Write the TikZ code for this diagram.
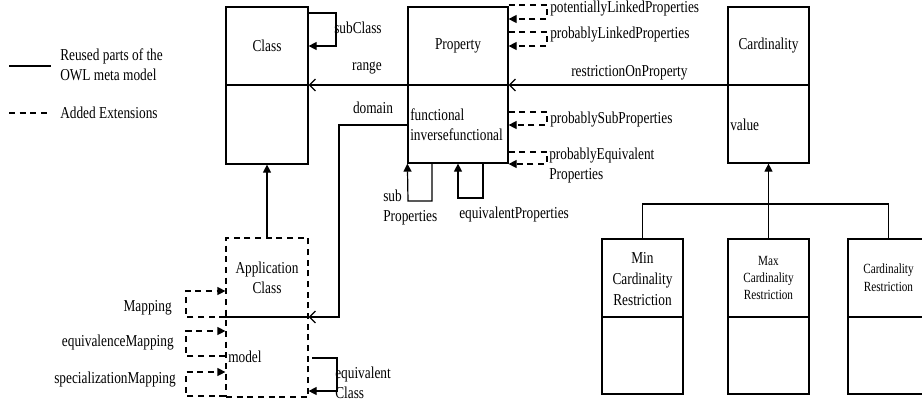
\documentclass[tikz,border=0pt]{standalone}
\usepackage{fontspec}
\setmainfont{Liberation Serif}[FakeStretch=0.8]
\usetikzlibrary{arrows.meta}

\def\u{0.75pt}
\tikzset{
	box/.style={draw, line width=0.9pt, inner sep=0pt},
	dbox/.style={box, dash pattern=on 4.5pt off 3.5pt},
	lab/.style={inner sep=0pt, font=\fontsize{12.5}{15}\selectfont},
	slab/.style={inner sep=0pt, font=\fontsize{10.5}{13}\selectfont},
	solidarr/.style={line width=0.9pt, -{Triangle[length=6pt,width=6pt]}},
	dasharr/.style={solidarr, dash pattern=on 4.5pt off 3.5pt},
	openarr/.style={line width=0.9pt, -{Straight Barb[length=4.5pt,width=9pt]}}
}

\begin{document}
\begin{tikzpicture}[x=0.75pt, y=-0.75pt]
		\useasboundingbox (0,0) rectangle (922,401);
		% boxes
		\node[box, minimum width=82*\u, minimum height=157*\u] (cls) at (267,85.5) {};
		\node[box, minimum width=100*\u, minimum height=156*\u] (prop) at (458,85) {};
		\node[box, minimum width=81*\u, minimum height=156*\u] (card) at (768.5,85) {};
		\node[dbox, minimum width=82*\u, minimum height=159*\u] (app) at (267,317.5) {};
		\node[box, minimum width=81*\u, minimum height=155*\u] (minc) at (642.5,316.5) {};
		\node[box, minimum width=81*\u, minimum height=155*\u] (maxc) at (768.5,316.5) {};
		\node[box, minimum width=81*\u, minimum height=155*\u] (cr) at (888.5,316.5) {};
		% dividers
		\draw[line width=0.9pt] (cls.west |- 0,85) -- (cls.east |- 0,85);
		\draw[line width=0.9pt] (prop.west |- 0,85) -- (prop.east |- 0,85);
		\draw[line width=0.9pt] (card.west |- 0,85) -- (card.east |- 0,85);
		\draw[line width=0.9pt] (app.west |- 0,317) -- (app.east |- 0,317);
		\draw[line width=0.9pt] (minc.west |- 0,317) -- (minc.east |- 0,317);
		\draw[line width=0.9pt] (maxc.west |- 0,317) -- (maxc.east |- 0,317);
		\draw[line width=0.9pt] (cr.west |- 0,317) -- (cr.east |- 0,317);
		% box texts
		\node[lab] (clsname) at (267,46) {Class};
		\node[lab] (propname) at (458,46) {Property};
		\node[lab] (cardname) at (768.5,46) {Cardinality};
		\node[lab, anchor=west] (cardval) at (730,125) {value};
		\node[lab, anchor=west, align=left] (propattr) at (410,125) {functional\\inversefunctional};
		\node[lab, align=center] (appname) at (267,278) {Application\\Class};
		\node[lab, anchor=west] (appattr) at (228,357) {model};
		\node[lab, align=center, font=\fontsize{12.5}{15.5}\selectfont] (mincname) at (642.5,279) {Min\\Cardinality\\Restriction};
		\node[slab, align=center, font=\fontsize{10.5}{13}\selectfont] (maxcname) at (768.5,278) {Max\\Cardinality\\Restriction};
		\node[slab, align=center, font=\fontsize{10.5}{13.5}\selectfont] (crname) at (888.5,278) {Cardinality\\Restriction};
		% reused relations
		\draw[solidarr] (cls.east |- 0,13) -- (336,13) -- (336,46) -- (cls.east |- 0,46);
		\draw[openarr] (prop.west |- 0,85) -- (cls.east |- 0,85);
		\draw[openarr] (card.west |- 0,85) -- (prop.east |- 0,85);
		\draw[openarr] (prop.west |- 0,125) -- (339,125) -- (339,317) -- (app.east |- 0,317);
		\draw[solidarr] (prop.south -| 432,0) -- (432,201) -- (408,201) -- (prop.south west);
		\draw[solidarr] (prop.south -| 483,0) -- (483,198) -- (458,198) -- (prop.south -| 458,0);
		\draw[solidarr] (app.north) -- (cls.south);
		\draw[solidarr] (312,358) -- (337,358) -- (337,391) -- (app.east |- 0,391);
		\draw[solidarr] (maxc.north) -- (card.south);
		\draw[line width=0.9pt] (minc.north) -- (minc.north |- 0,204) -- (cr.north |- 0,204) -- (cr.north);
		% added extensions
		\draw[dasharr] (prop.east |- 0,5) -- (547,5) -- (547,19) -- (prop.east |- 0,19);
		\draw[dasharr] (prop.east |- 0,32) -- (547,32) -- (547,46) -- (prop.east |- 0,46);
		\draw[dasharr] (prop.east |- 0,112) -- (547,112) -- (547,125) -- (prop.east |- 0,125);
		\draw[dasharr] (prop.east |- 0,152) -- (547,152) -- (547,164) -- (prop.east |- 0,164);
		\draw[dasharr] (app.west |- 0,317) -- (186,317) -- (186,291) -- (app.west |- 0,291);
		\draw[dasharr] (app.west |- 0,356) -- (186,356) -- (186,331) -- (app.west |- 0,331);
		\draw[dasharr] (app.west |- 0,396) -- (186,396) -- (186,372) -- (app.west |- 0,372);
		% relation labels
		\node[lab, anchor=west] (subclasslab) at (334,28) {subClass};
		\node[lab] (rangelab) at (367,68) {range};
		\node[lab] (domainlab) at (373,108) {domain};
		\node[lab, anchor=west] (potlab) at (550,9) {potentiallyLinkedProperties};
		\node[lab, anchor=west] (problab) at (550,35) {probablyLinkedProperties};
		\node[lab, anchor=west] (restrlab) at (571,73) {restrictionOnProperty};
		\node[lab, anchor=west] (psublab) at (550,120) {probablySubProperties};
		\node[lab, anchor=west, align=left] (pequivlab) at (549,165) {probablyEquivalent\\Properties};
		\node[lab, anchor=west, align=left] (sublab) at (383,207) {sub\\Properties};
		\node[lab, anchor=west] (equivlab) at (459,214) {equivalentProperties};
		\node[lab, anchor=east] (maplab) at (172,308) {Mapping};
		\node[lab, anchor=east] (eqmaplab) at (174,343) {equivalenceMapping};
		\node[lab, anchor=east] (spmaplab) at (176,380) {specializationMapping};
		\node[lab, anchor=west, align=left] (eqclslab) at (335,383) {equivalent\\Class};
		% legend
		\coordinate (ls1) at (9,66);
		\coordinate (ls2) at (51,66);
		\coordinate (ld1) at (9,113);
		\coordinate (ld2) at (47,113);
		\draw[line width=0.9pt] (ls1) -- (ls2);
		\draw[line width=0.9pt, dash pattern=on 4.5pt off 3.5pt] (ld1) -- (ld2);
		\node[lab, anchor=west, align=left] (legsolid) at (60,65) {Reused parts of the\\OWL meta model};
		\node[lab, anchor=west] (legdash) at (60,113) {Added Extensions};
	\end{tikzpicture}
\end{document}
